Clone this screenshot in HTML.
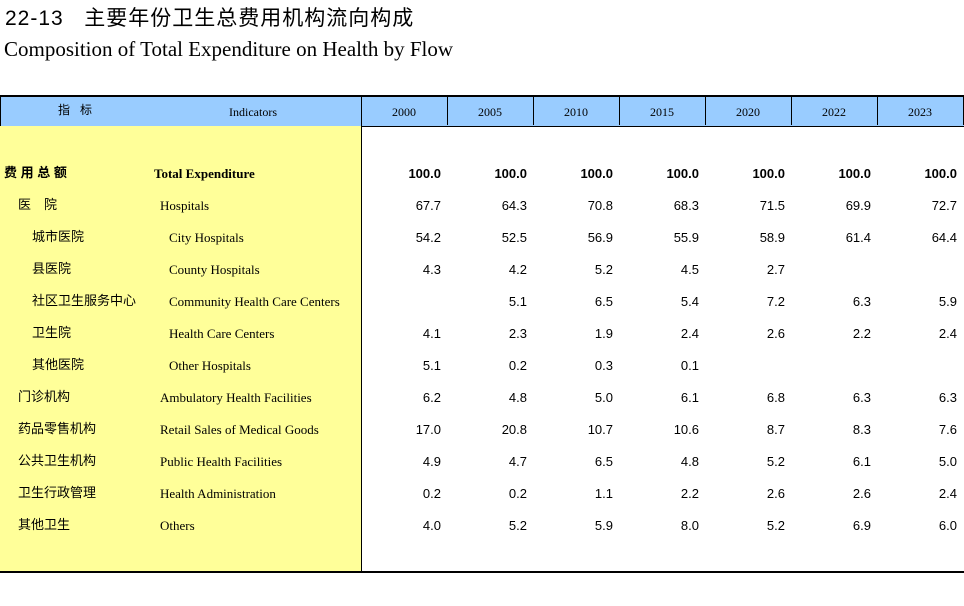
<!DOCTYPE html>
<html><head><meta charset="utf-8">
<style>
body{margin:0;width:964px;height:606px;background:#fff;position:relative;overflow:hidden;font-family:"Liberation Sans","Noto Sans CJK SC",sans-serif;}
.a{position:absolute;white-space:nowrap;line-height:16px;}
.cn{font-family:"Liberation Sans","Noto Sans CJK SC",sans-serif;font-size:13px;color:#000;}
.en{font-family:"Liberation Serif","Noto Serif CJK SC",serif;font-size:13px;color:#000;}
.num{font-family:"Liberation Sans",sans-serif;font-size:13px;text-align:right;width:80px;}
</style></head><body>
<div class="a" style="left:5px;top:6px;line-height:26px;font-size:21px;letter-spacing:1px;font-family:'Liberation Sans','Noto Sans CJK SC',sans-serif;">22-13&nbsp;&nbsp;&nbsp;主要年份卫生总费用机构流向构成</div>
<div class="a" style="left:4px;top:36px;line-height:26px;font-size:21px;font-family:'Liberation Serif',serif;">Composition of Total Expenditure on Health by Flow</div>
<div class="a" style="left:0;top:95px;width:963px;height:29px;background:#99ccff;border-top:2px solid #000;border-bottom:1px solid #000;border-left:1px solid #000;"></div>
<div class="a" style="left:0;top:126px;width:361px;height:446px;background:#ffff99;"></div>
<div class="a" style="left:0;top:571px;width:964px;height:2px;background:#000;"></div>
<div class="a" style="left:361px;top:97px;width:1px;height:475px;background:#000;"></div>
<div class="a cn" style="left:58px;top:102px;font-size:12px;">指&nbsp;&nbsp;&nbsp;标</div>
<div class="a en" style="left:229px;top:104px;font-size:12px;">Indicators</div>
<div id="tbl"></div>
<script>
const years=["2000","2005","2010","2015","2020","2022","2023"];
const labelsCn=["费 用 总 额","医　院","城市医院","县医院","社区卫生服务中心","卫生院","其他医院","门诊机构","药品零售机构","公共卫生机构","卫生行政管理","其他卫生"];
const labelsEn=["Total Expenditure","Hospitals","City Hospitals","County Hospitals","Community Health Care Centers","Health Care Centers","Other Hospitals","Ambulatory Health Facilities","Retail Sales of Medical Goods","Public Health Facilities","Health Administration","Others"];
const values=[
["100.0","100.0","100.0","100.0","100.0","100.0","100.0"],
["67.7","64.3","70.8","68.3","71.5","69.9","72.7"],
["54.2","52.5","56.9","55.9","58.9","61.4","64.4"],
["4.3","4.2","5.2","4.5","2.7","",""],
["","5.1","6.5","5.4","7.2","6.3","5.9"],
["4.1","2.3","1.9","2.4","2.6","2.2","2.4"],
["5.1","0.2","0.3","0.1","","",""],
["6.2","4.8","5.0","6.1","6.8","6.3","6.3"],
["17.0","20.8","10.7","10.6","8.7","8.3","7.6"],
["4.9","4.7","6.5","4.8","5.2","6.1","5.0"],
["0.2","0.2","1.1","2.2","2.6","2.6","2.4"],
["4.0","5.2","5.9","8.0","5.2","6.9","6.0"]];
const tbl=document.getElementById('tbl');
const colX=i=>361+i*86;
const rowY=r=>166+r*32;
const cnIndent=[4,18,32,32,32,32,32,18,18,18,18,18];
const enIndent=[154,160,169,169,169,169,169,160,160,160,160,160];
years.forEach((y,i)=>{
  const d=document.createElement('div');
  
  
  d.className='a en';d.textContent=y;
  d.style.cssText=`left:${colX(i)}px;top:104px;width:86px;text-align:center;font-size:12px;`;
  tbl.appendChild(d);
  const s=document.createElement('div');
  
  
  s.className='a';
  s.style.cssText=`left:${colX(i+1)}px;top:97px;width:1px;height:28px;background:#000;`;
  tbl.appendChild(s);
});
labelsCn.forEach((c,r)=>{
  const bold=r===0?'font-weight:bold;':'';
  const a=document.createElement('div');
  
  
  a.className='a cn';a.textContent=c;
  a.style.cssText=`left:${cnIndent[r]}px;top:${rowY(r)-1}px;${bold}`;
  tbl.appendChild(a);
  const b=document.createElement('div');
  
  
  b.className='a en';b.textContent=labelsEn[r];
  b.style.cssText=`left:${enIndent[r]}px;top:${rowY(r)}px;${bold}`;
  tbl.appendChild(b);
  values[r].forEach((v,i)=>{
    const n=document.createElement('div');
    
    
    n.className='a num';n.textContent=v;
    n.style.cssText=`left:${colX(i)+86-6-80}px;top:${rowY(r)}px;${bold}`;
    tbl.appendChild(n);
  });
});
</script>
</body></html>
